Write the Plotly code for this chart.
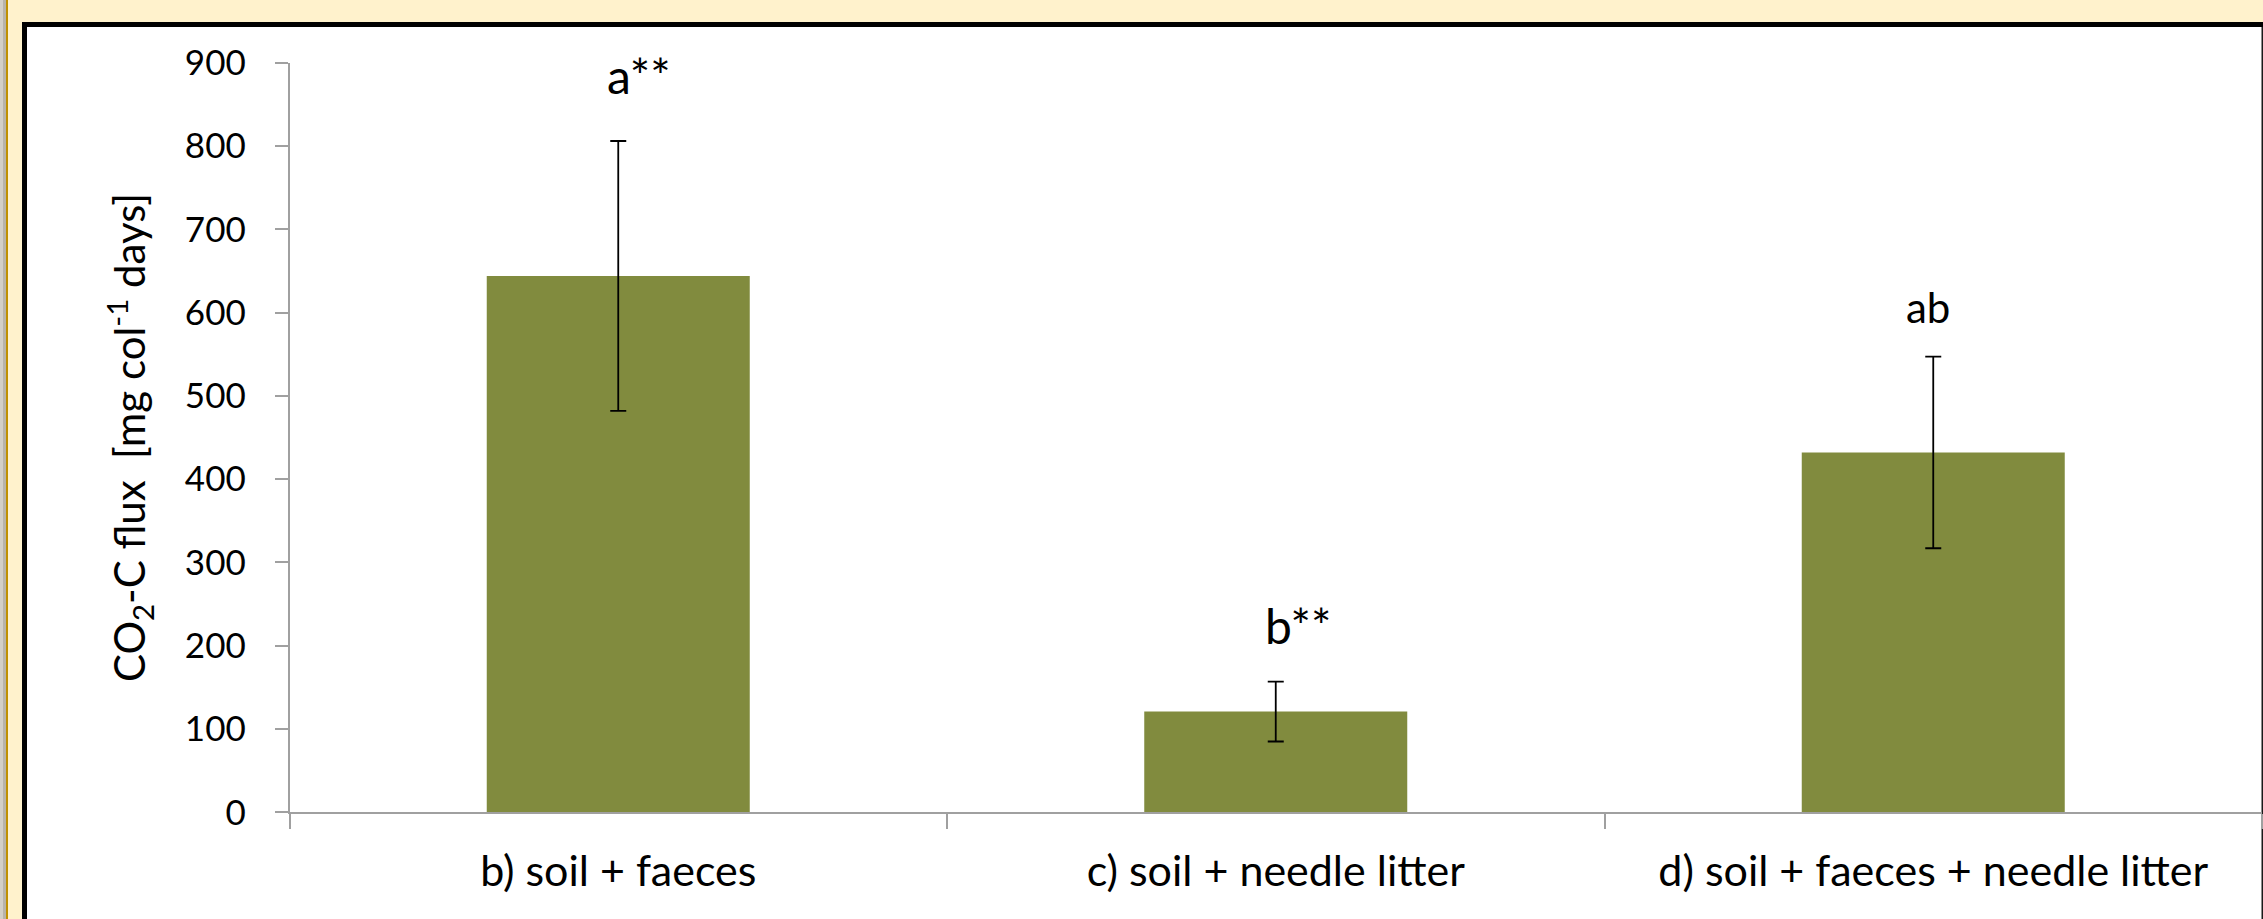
import plotly.graph_objects as go

# ---- data ----
categories = ["b) soil + faeces", "c) soil + needle litter", "d) soil + faeces + needle litter"]
co2_flux = [644, 121, 432]
co2_err = [162, 36, 115]
sig_labels = ["a**", "b**", "ab"]
y_ticks = [0, 100, 200, 300, 400, 500, 600, 700, 800, 900]

W, H = 2263, 919

def px(x):
    return x / W

def py(y):
    return 1 - y / H

FONT = "Lato, 'Open Sans', sans-serif"
BAR = "#818B3E"
AXC = "#A0A0A0"

fig = go.Figure()
fig.add_trace(go.Bar(
    x=categories, y=co2_flux, width=0.4,
    marker=dict(color=BAR, line=dict(width=0)),
    error_y=dict(type="data", array=co2_err, visible=True,
                 color="#000000", thickness=1.8, width=8),
    showlegend=False, hoverinfo="x+y",
))

shapes = [
    # left window edge
    dict(type="rect", xref="paper", yref="paper", x0=px(0), x1=px(3), y0=0, y1=1,
         fillcolor="#D3CFC7", line=dict(width=0), layer="below"),
    dict(type="rect", xref="paper", yref="paper", x0=px(3), x1=px(6), y0=0, y1=1,
         fillcolor="#B8B3A9", line=dict(width=0), layer="below"),
    dict(type="rect", xref="paper", yref="paper", x0=px(6), x1=px(8), y0=0, y1=1,
         fillcolor="#C09000", line=dict(width=0), layer="below"),
    # black frame (top + left)
    dict(type="rect", xref="paper", yref="paper", x0=px(22), x1=px(W + 5), y0=py(H + 5), y1=py(22),
         fillcolor="#000000", line=dict(width=0), layer="below"),
    # white chart area
    dict(type="rect", xref="paper", yref="paper", x0=px(27), x1=px(W + 5), y0=py(H + 5), y1=py(27),
         fillcolor="#FFFFFF", line=dict(width=0), layer="below"),
    # thin right frame edge
    dict(type="rect", xref="paper", yref="paper", x0=px(2261.5), x1=px(W + 5), y0=py(H + 5), y1=py(27),
         fillcolor="#1A1A1A", line=dict(width=0), layer="below"),
]

ann_specs = [
    dict(i=0, xshift=21, y=885, size=48),
    dict(i=1, xshift=22, y=224, size=48),
    dict(i=2, xshift=-5, y=607, size=42),
]
annotations = []
for s in ann_specs:
    annotations.append(dict(
        x=categories[s["i"]], y=s["y"], xref="x", yref="y", text=sig_labels[s["i"]],
        showarrow=False, xshift=s["xshift"], xanchor="center", yanchor="middle",
        font=dict(family=FONT, size=s["size"], color="#000000"),
    ))

fig.update_layout(
    width=W, height=H,
    margin=dict(l=0, r=0, t=0, b=0, pad=0),
    paper_bgcolor="#FFF2CC",
    plot_bgcolor="rgba(0,0,0,0)",
    font=dict(family=FONT, size=35, color="#000000"),
    shapes=shapes,
    annotations=annotations,
    bargap=0.6,
    xaxis=dict(
        domain=[289.5 / W, 2262 / W],
        range=[-0.5, 2.5],
        type="category",
        showline=True, linecolor=AXC, linewidth=1.5,
        ticks="outside", tickson="boundaries", ticklen=15, tickcolor=AXC, tickwidth=1.5,
        showgrid=False, zeroline=False, automargin=False,
        tickfont=dict(family=FONT, size=43, color="#000000"),
        ticklabelstandoff=20,
    ),
    yaxis=dict(
        domain=[py(812.3), py(62.7)],
        range=[0, 900],
        tickvals=y_ticks,
        showline=True, linecolor=AXC, linewidth=1.5,
        ticks="outside", ticklen=13, tickcolor=AXC, tickwidth=1.5,
        showgrid=False, zeroline=False, automargin=False,
        tickfont=dict(family=FONT, size=35, color="#000000"),
        ticklabelstandoff=22,
        title=dict(text="CO<sub>2</sub>-C flux&nbsp; [mg col<sup>-1</sup> days]",
                   font=dict(family=FONT, size=42, color="#000000"), standoff=26),
    ),
)

fig.write_html("out.html", config={"displayModeBar": False},
               post_script="document.body.style.margin='0';document.body.style.overflow='hidden';")
